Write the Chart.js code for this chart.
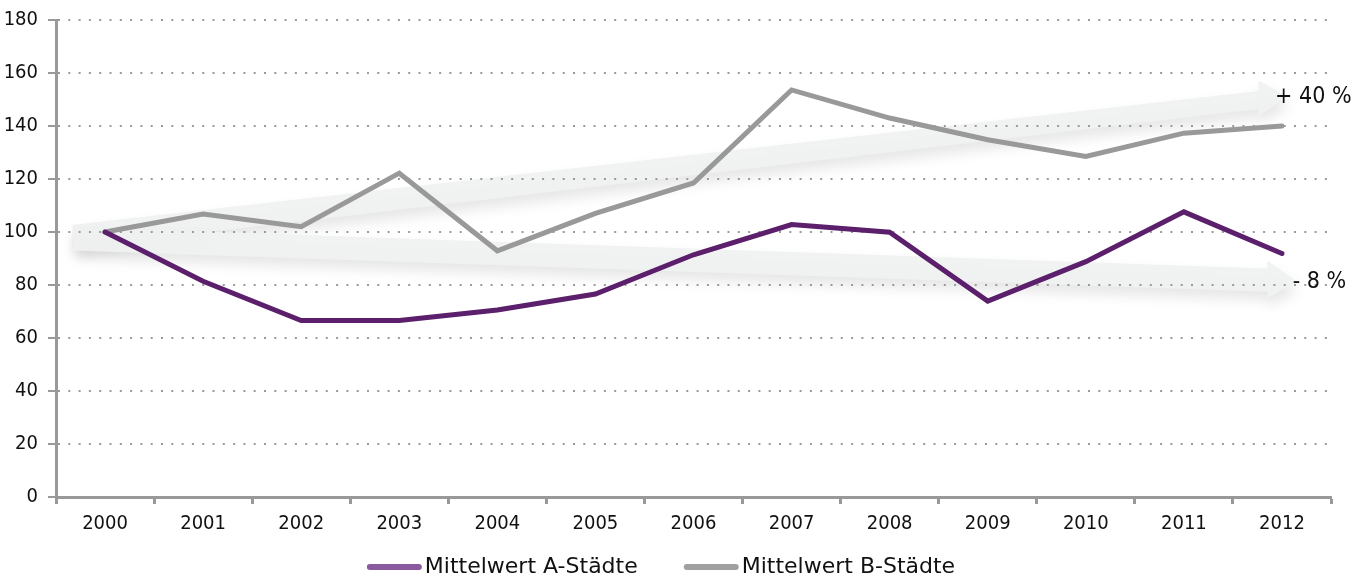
<!DOCTYPE html>
<html>
<head>
<meta charset="utf-8">
<script src="https://cdn.jsdelivr.net/npm/chart.js@4/dist/chart.umd.min.js"></script>
<style>
  html, body { margin: 0; padding: 0; background: #ffffff; }
  #wrap { width: 1364px; height: 578px; }
</style>
</head>
<body>
<div id="wrap"><canvas id="c" width="1364" height="578"></canvas></div>
<script>
// ---- data ----
const years = ['2000','2001','2002','2003','2004','2005','2006','2007','2008','2009','2010','2011','2012'];
const seriesA = [100, 81.4, 66.6, 66.6, 70.6, 76.6, 91.4, 102.8, 99.9, 73.9, 88.8, 107.6, 91.9];
const seriesB = [100, 106.8, 102.0, 122.2, 92.9, 107.0, 118.5, 153.6, 143.0, 134.8, 128.5, 137.3, 140.0];
const seriesNames = ['Mittelwert A-Städte', 'Mittelwert B-Städte'];
const yTicks = [0, 20, 40, 60, 80, 100, 120, 140, 160, 180];
const trendLabels = ['+ 40 %', '- 8 %'];

// ---- annotation geometry (in data space: category index, value) ----
const trendArrows = [
  { left: -0.33, leftTop: 102.7, leftBottom: 94, base: 11.76, shaftTop: 153.2, shaftBottom: 146.4,
    headTop: 157.3, headBottom: 143.8, tipX: 12.06, tipY: 150.9, textX: 11.93, textY: 150.9 },
  { left: -0.33, leftTop: 101.9, leftBottom: 93, base: 11.85, shaftTop: 86.2, shaftBottom: 77.5,
    headTop: 89.2, headBottom: 75, tipX: 12.15, tipY: 81.3, textX: 12.11, textY: 81.3 }
];

const FONT = "'DejaVu Sans Condensed', 'DejaVu Sans', sans-serif";
const LEGEND_FONT = "'DejaVu Sans', sans-serif";
const purple = '#5b1f6c';
const purpleLegend = '#8a5a9e';
const gray = '#999999';
const grayLegend = '#a0a0a0';

const arrowPlugin = {
  id: 'trendArrows',
  beforeDraw(chart) {
    const ctx = chart.ctx;
    const xs = chart.scales.x, ys = chart.scales.y;
    const X = v => xs.getPixelForValue(v);
    const Y = v => ys.getPixelForValue(v);
    ctx.save();
    trendArrows.forEach(a => {
      ctx.save();
      ctx.beginPath();
      ctx.moveTo(X(a.left), Y(a.leftTop));
      ctx.lineTo(X(a.base), Y(a.shaftTop));
      ctx.lineTo(X(a.base), Y(a.headTop));
      ctx.lineTo(X(a.tipX), Y(a.tipY));
      ctx.lineTo(X(a.base), Y(a.headBottom));
      ctx.lineTo(X(a.base), Y(a.shaftBottom));
      ctx.lineTo(X(a.left), Y(a.leftBottom));
      ctx.closePath();
      ctx.shadowColor = 'rgba(0,0,0,0.11)';
      ctx.shadowBlur = 14;
      ctx.shadowOffsetX = 2;
      ctx.shadowOffsetY = 8;
      ctx.fillStyle = 'rgba(240,241,241,0.92)';
      ctx.fill();
      ctx.restore();
    });
    ctx.restore();
  },
  afterDatasetsDraw(chart) {
    const ctx = chart.ctx;
    const xs = chart.scales.x, ys = chart.scales.y;
    ctx.save();
    ctx.font = "23px " + FONT;
    ctx.fillStyle = '#111111';
    ctx.textAlign = 'left';
    ctx.textBaseline = 'middle';
    trendArrows.forEach((a, i) => {
      ctx.fillText(trendLabels[i], xs.getPixelForValue(a.textX), ys.getPixelForValue(a.textY));
    });
    ctx.restore();
  }
};

// custom legend: line swatch directly followed by text, at the bottom
const legendPlugin = {
  id: 'bottomLegend',
  afterDraw(chart) {
    const ctx = chart.ctx;
    const swW = 55, gapText = 3, gapItem = 46, shift = -21;
    const cols = [purpleLegend, grayLegend];
    ctx.save();
    ctx.font = "22px " + LEGEND_FONT;
    const widths = chart.data.datasets.map(d => ctx.measureText(d.label).width);
    const total = widths.reduce((s, w) => s + swW + gapText + w, 0) + gapItem * (widths.length - 1);
    let x = (chart.width - total) / 2 + shift;
    const y = chart.height - 11;
    ctx.textBaseline = 'middle';
    ctx.textAlign = 'left';
    chart.data.datasets.forEach((d, i) => {
      ctx.strokeStyle = cols[i];
      ctx.lineWidth = 6;
      ctx.lineCap = 'round';
      ctx.beginPath();
      ctx.moveTo(x + 3, y);
      ctx.lineTo(x + swW - 3, y);
      ctx.stroke();
      x += swW + gapText;
      ctx.fillStyle = '#111111';
      ctx.fillText(d.label, x, y);
      x += widths[i] + gapItem;
    });
    ctx.restore();
  }
};

new Chart(document.getElementById('c'), {
  type: 'line',
  data: {
    labels: years,
    datasets: [
      { label: seriesNames[0], data: seriesA, borderColor: purple, backgroundColor: purple,
        borderWidth: 5, pointRadius: 0, tension: 0, borderJoinStyle: 'miter', borderCapStyle: 'round' },
      { label: seriesNames[1], data: seriesB, borderColor: gray, backgroundColor: gray,
        borderWidth: 5, pointRadius: 0, tension: 0, borderJoinStyle: 'miter', borderCapStyle: 'round' }
    ]
  },
  options: {
    responsive: false,
    animation: false,
    devicePixelRatio: 1,
    layout: { padding: { top: 4, right: 33, bottom: 37, left: 0 } },
    plugins: {
      tooltip: { enabled: false },
      legend: { display: false }
    },
    scales: {
      x: {
        offset: true,
        grid: { display: true, drawOnChartArea: false, offset: true, tickLength: 7,
                tickColor: '#999999', tickWidth: 3 },
        border: { display: true, color: '#999999', width: 3 },
        ticks: { font: { family: FONT, size: 20 }, color: '#111111', padding: 8, maxRotation: 0, autoSkip: false },
        afterFit(scale) { scale.height = 44; }
      },
      y: {
        min: 0, max: 180,
        afterBuildTicks(scale) { scale.ticks = yTicks.map(v => ({ value: v })); },
        grid: { color: '#9a9a9a', lineWidth: 2, tickLength: 8,
                tickColor: '#999999', tickWidth: 2, tickBorderDash: [] },
        border: { display: true, color: '#999999', width: 3, dash: [2, 8.3] },
        ticks: { font: { family: FONT, size: 20, lineHeight: 1.0 }, color: '#111111', padding: 10 },
        afterFit(scale) { scale.width = 56; }
      }
    }
  },
  plugins: [arrowPlugin, legendPlugin]
});
</script>
</body>
</html>
